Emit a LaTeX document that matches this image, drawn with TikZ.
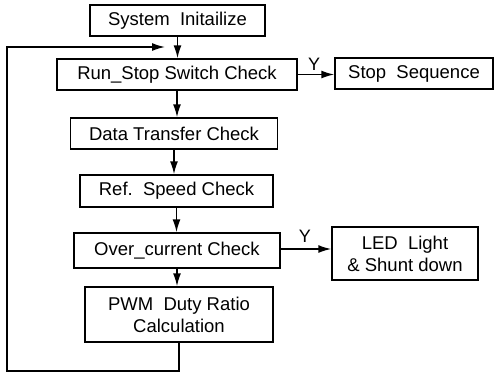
\documentclass[tikz,border=0pt]{standalone}
\usepackage{fontspec}
\setmainfont{Liberation Sans}
\usetikzlibrary{positioning, arrows.meta}

\begin{document}
\begin{tikzpicture}[x=1pt, y=-1pt, >={Latex[length=13pt,width=8pt]},
        stepbox/.style={draw, line width=1.5pt, minimum height=31pt, inner sep=2pt,
            align=center, font=\fontsize{18.5}{22}\selectfont},
        flow/.style={->, line width=1.5pt},
        yes/.style={font=\fontsize{18}{20}\selectfont, inner sep=1pt}]
            \useasboundingbox (0,0) rectangle (498,373);

            % main column
            \node[stepbox, minimum width=175pt] (init) at (177.5,20.5) {System~~Initailize};
            \node[stepbox, minimum width=240pt] (runstop) at (177,74.5) {Run\_Stop Switch Check};
            \node[stepbox, minimum width=207pt] (datatr) at (174,133.5) {Data Transfer Check};
            \node[stepbox, minimum width=193pt, minimum height=32pt] (refspd) at (176.5,191) {Ref.~~Speed Check};
            \node[stepbox, minimum width=206pt, minimum height=35pt] (overcur) at (177,250.5) {Over\_current Check};
            \node[stepbox, minimum width=188pt, minimum height=55pt] (pwm) at (179,314.5) {PWM~~Duty Ratio\\Calculation};

            % side branches
            \node[stepbox, minimum width=158pt] (stopseq) at (414,73.5) {Stop~~Sequence};
            \node[stepbox, minimum width=146pt, minimum height=53pt] (led) at (405,253.5) {LED~~Light\\\& Shunt down};

            % loop corners
            \coordinate (lb) at (7,371);
            \coordinate (lt) at (7,47);
            \coordinate (le) at (165,47);

            \draw[flow] (init.south) -- (init.south |- runstop.north);
            \draw[flow] (runstop.south) -- (runstop.south |- datatr.north);
            \draw[flow] (datatr.south) -- (datatr.south |- refspd.north);
            \draw[flow] (refspd.south) -- (refspd.south |- overcur.north);
            \draw[flow] (overcur.south) -- (overcur.south |- pwm.north);

            \draw[flow] (runstop.east) -- node[yes, pos=0.45, above=2pt] {Y} (runstop.east -| stopseq.west);
            \draw[flow] (overcur.east |- 0,249) -- node[yes, pos=0.48, above=5pt] {Y} (led.west |- 0,249);

            % return path
            \draw[flow] (pwm.south) |- (lb) -- (lt) -- (le);
        \end{tikzpicture}
\end{document}
